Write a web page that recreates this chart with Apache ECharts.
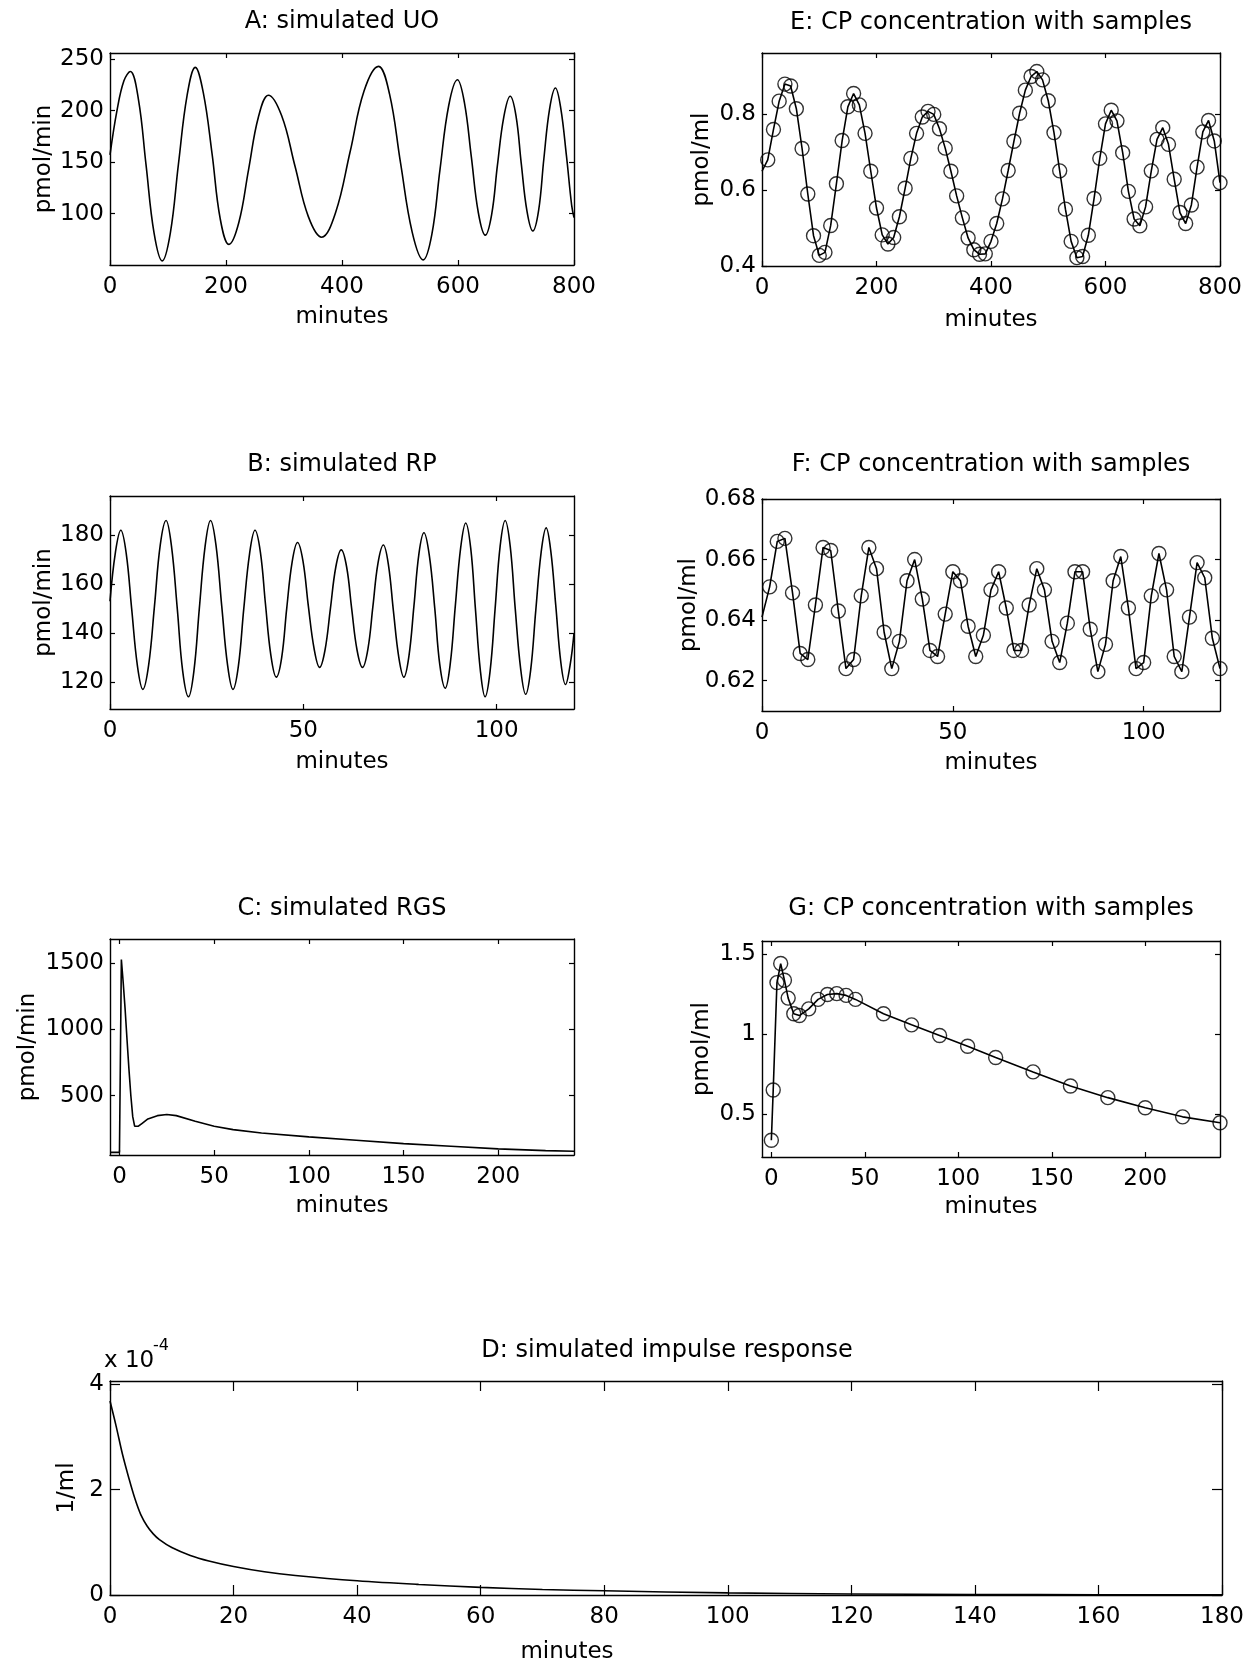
<!DOCTYPE html>
<html><head><meta charset="utf-8">
<script src="https://cdn.jsdelivr.net/npm/echarts@6/dist/echarts.min.js"></script>
<style>html,body{margin:0;padding:0;background:#fff}#c{width:1256px;height:1666px}</style>
</head><body><div id="c"></div>
<script>
// ---------- DATA ----------
// A: simulated UO (pmol/min vs minutes)
const A_t = [0, 12, 24, 35, 49, 62, 76, 90, 104, 118, 133, 147, 161, 176, 190, 205, 222, 239, 256, 273, 296, 319, 342, 365, 389, 414, 438, 463, 482, 501, 521, 540, 555, 569, 584, 599, 611, 623, 635, 647, 658, 668, 679, 690, 700, 709, 719, 729, 739, 748, 758, 768, 777, 787, 796, 800];
const A_v = [157, 200, 229, 238, 211, 148, 81, 54, 81, 148, 215, 242, 217, 158, 95, 70, 91, 143, 194, 215, 195, 146, 97, 77, 101, 160, 219, 243, 216, 149, 82, 55, 80, 143, 205, 230, 208, 155, 101, 79, 99, 147, 194, 214, 195, 149, 102, 83, 103, 153, 202, 222, 203, 156, 108, 96];
const A_xTicks = [0, 200, 400, 600, 800];
const A_yTicks = [100, 150, 200, 250];

// B: simulated RP
const B_t = [0, 1.4, 2.8,
  4.2, 5.6, 7.1, 8.5,   10, 11.5, 13, 14.5,   15.9, 17.4, 18.8, 20.3,   21.7, 23.1, 24.6, 26,
  27.4, 28.9, 30.4, 31.8,   33.2, 34.6, 36.1, 37.5,   38.9, 40.2, 41.6, 43,   44.4, 45.7, 47.1, 48.5,
  49.9, 51.3, 52.8, 54.2,   55.6, 57, 58.4, 59.8,   61.2, 62.5, 63.9, 65.3,   66.7, 68, 69.3, 70.7,
  72, 73.3, 74.7, 76,   77.3, 78.6, 79.9, 81.2,   82.6, 84, 85.3, 86.7,   88, 89.3, 90.7, 92,
  93.3, 94.5, 95.8, 97,   98.3, 99.6, 100.9, 102.2,   103.5, 104.8, 106.2, 107.5,   108.8, 110.1, 111.5, 112.8,
  114, 115.3, 116.6, 117.8,   119, 120];
const B_v = [153, 173, 182,
  172.5, 150, 126.5, 117,   127, 151, 176, 186,   175.5, 150, 124.5, 114,   124.5, 150, 175.5, 186,
  176, 151, 127, 117,   126.5, 150, 172.5, 182,   173, 152, 131, 122,   130, 150, 169, 177,
  169.5, 151, 133.5, 126,   133, 150, 167, 174,   167, 150, 133, 126,   133.5, 151, 168.5, 176,
  168, 149, 130, 122,   130.5, 151, 172.5, 181,   171.5, 150, 127, 117.5,   127.5, 151, 175, 185,
  174.5, 150, 124.5, 114,   124.5, 150, 175.5, 186,   175.5, 150, 125.5, 115,   125, 149, 173, 183,
  173.5, 151, 128, 119,   127, 140];
const B_xTicks = [0, 50, 100];
const B_yTicks = [120, 140, 160, 180];

// C: simulated RGS
const C_t = [-5, 0, 1, 2, 3, 4, 5, 6, 7, 8, 9, 10, 12, 15, 20, 25, 30, 40, 50, 60, 75, 100, 125, 150, 175, 200, 225, 240];
const C_v = [70, 70, 1530, 1350, 1150, 920, 700, 500, 340, 268, 262, 268, 290, 323, 348, 356, 348, 305, 268, 242, 217, 187, 162, 136, 116, 96, 83, 78];
const C_xTicks = [0, 50, 100, 150, 200];
const C_yTicks = [500, 1000, 1500];

// D: simulated impulse response (values in units of 1e-4 1/ml)
const D_t = [0, 1, 2, 3, 4, 5, 6, 7, 8, 10, 13, 16, 20, 25, 30, 40, 50, 60, 70, 80, 100, 120, 140, 160, 180];
const D_v = [3.68, 3.2, 2.68, 2.24, 1.84, 1.52, 1.31, 1.16, 1.05, 0.9, 0.75, 0.645, 0.54, 0.44, 0.37, 0.27, 0.20, 0.145, 0.105, 0.08, 0.04, 0.02, 0.01, 0.005, 0.002];
const D_xTicks = [0, 20, 40, 60, 80, 100, 120, 140, 160, 180];
const D_yTicks = [0, 2, 4];

// E: CP concentration with samples (10-min samples)
const E_line0 = [0, 0.65];
const E_t = [10,20,30,40,50,60,70,80,90,100,110,120,130,140,150,160,170,180,190,200,210,220,230,240,250,260,270,280,290,300,310,320,330,340,350,360,370,380,390,400,410,420,430,440,450,460,470,480,490,500,510,520,530,540,550,560,570,580,590,600,610,620,630,640,650,660,670,680,690,700,710,720,730,740,750,760,770,780,790,800];
const E_v = [0.68,0.76,0.835,0.88,0.875,0.815,0.71,0.59,0.48,0.428,0.436,0.507,0.617,0.731,0.82,0.855,0.825,0.75,0.65,0.553,0.482,0.458,0.475,0.53,0.605,0.684,0.75,0.793,0.808,0.8,0.762,0.711,0.65,0.585,0.527,0.474,0.443,0.431,0.432,0.465,0.512,0.577,0.652,0.729,0.803,0.864,0.9,0.913,0.891,0.836,0.752,0.651,0.55,0.465,0.422,0.425,0.481,0.578,0.684,0.775,0.811,0.783,0.699,0.597,0.524,0.506,0.556,0.651,0.734,0.765,0.721,0.629,0.541,0.512,0.561,0.661,0.754,0.784,0.73,0.62];
const E_xTicks = [0, 200, 400, 600, 800];
const E_yTicks = [0.4, 0.6, 0.8];

// F: CP concentration with samples (2-min samples)
const F_line0 = [0, 0.641];
const F_t = [2,4,6,8,10,12,14,16,18,20,22,24,26,28,30,32,34,36,38,40,42,44,46,48,50,52,54,56,58,60,62,64,66,68,70,72,74,76,78,80,82,84,86,88,90,92,94,96,98,100,102,104,106,108,110,112,114,116,118,120];
const F_v = [0.651,0.666,0.667,0.649,0.629,0.627,0.645,0.664,0.663,0.643,0.624,0.627,0.648,0.664,0.657,0.636,0.624,0.633,0.653,0.660,0.647,0.630,0.628,0.642,0.656,0.653,0.638,0.628,0.635,0.650,0.656,0.644,0.630,0.630,0.645,0.657,0.650,0.633,0.626,0.639,0.656,0.656,0.637,0.623,0.632,0.653,0.661,0.644,0.624,0.626,0.648,0.662,0.650,0.628,0.623,0.641,0.659,0.654,0.634,0.624];
const F_xTicks = [0, 50, 100];
const F_yTicks = [0.62, 0.64, 0.66, 0.68];

// G: CP concentration with samples
const G_t = [0, 1, 3, 5, 7, 9, 12, 15, 20, 25, 30, 35, 40, 45, 60, 75, 90, 105, 120, 140, 160, 180, 200, 220, 240];
const G_v = [0.339, 0.653, 1.324, 1.443, 1.339, 1.227, 1.129, 1.118, 1.160, 1.219, 1.250, 1.255, 1.244, 1.219, 1.129, 1.060, 0.993, 0.926, 0.856, 0.766, 0.678, 0.605, 0.542, 0.485, 0.448];
const G_xTicks = [0, 50, 100, 150, 200];
const G_yTicks = [0.5, 1, 1.5];

// ---------- BUILD ----------
const FONT = 'DejaVu Sans';
const FS = 23;
const LW = 1.6;
const zip = (t, v) => t.map((x, i) => [x, v[i]]);
const grids = [], xAxes = [], yAxes = [], series = [];

function panel(p) {
  const gi = grids.length;
  grids.push({left: p.left, top: p.top, width: p.width, height: p.height, containLabel: false});
  const line = {show: true, onZero: false, lineStyle: {color: '#000', width: 1.4}};
  const tl = p.tick || 5;
  const txt = {color: '#000', fontFamily: FONT, fontSize: FS};
  const xi = xAxes.length, yi = yAxes.length;
  const tick = vals => ({show: true, inside: true, length: tl, lineStyle: {color: '#000', width: 1.2}, customValues: vals});
  xAxes.push({type: 'value', gridIndex: gi, position: 'bottom', min: p.xMin, max: p.xMax,
    axisLine: line, splitLine: {show: false}, axisTick: tick(p.xTicks),
    axisLabel: Object.assign({show: true, margin: 11, customValues: p.xTicks, formatter: v => String(v)}, txt),
    name: p.xName || '', nameLocation: 'middle', nameGap: p.xGap || 40, nameTextStyle: txt});
  xAxes.push({type: 'value', gridIndex: gi, position: 'top', min: p.xMin, max: p.xMax,
    axisLine: line, splitLine: {show: false}, axisTick: tick(p.xTicks), axisLabel: {show: false}});
  yAxes.push({type: 'value', gridIndex: gi, position: 'left', min: p.yMin, max: p.yMax,
    axisLine: line, splitLine: {show: false}, axisTick: tick(p.yTicks),
    axisLabel: Object.assign({show: true, margin: 6, customValues: p.yTicks, formatter: v => String(v)}, txt),
    name: p.yName, nameLocation: 'middle', nameGap: p.yGap, nameTextStyle: txt});
  yAxes.push({type: 'value', gridIndex: gi, position: 'right', min: p.yMin, max: p.yMax,
    axisLine: line, splitLine: {show: false}, axisTick: tick(p.yTicks), axisLabel: {show: false}});
  return {xi, yi};
}

function addLine(ax, data, smooth) {
  series.push({type: 'line', xAxisIndex: ax.xi, yAxisIndex: ax.yi, data, smooth: smooth || false,
    showSymbol: false, symbol: 'none', lineStyle: {color: '#000', width: LW}, z: 3});
}
function addCircles(ax, data) {
  series.push({type: 'scatter', xAxisIndex: ax.xi, yAxisIndex: ax.yi, data, symbol: 'circle', symbolSize: 14,
    itemStyle: {color: 'rgba(0,0,0,0)', borderColor: '#000', borderWidth: 1.4}, z: 4});
}

const axA = panel({left: 110, top: 53, width: 464, height: 212, xMin: 0, xMax: 800, xTicks: A_xTicks,
  yMin: 50, yMax: 256, yTicks: A_yTicks, yName: 'pmol/min', yGap: 54, xName: 'minutes', xGap: 41});
addLine(axA, zip(A_t, A_v), 0.4);

const axE = panel({left: 762, top: 53, width: 458, height: 213, xMin: 0, xMax: 800, xTicks: E_xTicks,
  yMin: 0.4, yMax: 0.962, yTicks: E_yTicks, yName: 'pmol/ml', yGap: 48, xName: 'minutes', xGap: 43});
addLine(axE, [E_line0].concat(zip(E_t, E_v)));
addCircles(axE, zip(E_t, E_v));

const axB = panel({left: 110, top: 496, width: 464, height: 213, xMin: 0, xMax: 120, xTicks: B_xTicks,
  yMin: 109, yMax: 196, yTicks: B_yTicks, yName: 'pmol/min', yGap: 54, xName: 'minutes', xGap: 42});
addLine(axB, zip(B_t, B_v), 0.4);

const axF = panel({left: 762, top: 499, width: 458, height: 212, xMin: 0, xMax: 120, xTicks: F_xTicks,
  yMin: 0.61, yMax: 0.68, yTicks: F_yTicks, yName: 'pmol/ml', yGap: 48, xName: 'minutes', xGap: 41});
addLine(axF, [F_line0].concat(zip(F_t, F_v)));
addCircles(axF, zip(F_t, F_v));

const axC = panel({left: 110, top: 939, width: 464, height: 216, xMin: -5, xMax: 240, xTicks: C_xTicks,
  yMin: 50, yMax: 1685, yTicks: C_yTicks, yName: 'pmol/min', yGap: 70, xName: 'minutes', xGap: 40});
addLine(axC, zip(C_t, C_v));

const axG = panel({left: 762, top: 941, width: 458, height: 216, xMin: -5, xMax: 240, xTicks: G_xTicks,
  yMin: 0.234, yMax: 1.584, yTicks: G_yTicks, yName: 'pmol/ml', yGap: 48, xName: 'minutes', xGap: 39});
addLine(axG, zip(G_t, G_v));
addCircles(axG, zip(G_t, G_v));

const axD = panel({left: 110, top: 1381, width: 1112, height: 214, xMin: 0, xMax: 180, xTicks: D_xTicks,
  yMin: 0, yMax: 4.06, yTicks: D_yTicks, yName: '1/ml', yGap: 28, tick: 10});
addLine(axD, zip(D_t, D_v), 0.35);

function label(text, x, y, size, align) {
  return {type: 'text', x, y, z: 10, style: {text, fill: '#000', font: size + 'px "' + FONT + '"',
    align: align || 'center', verticalAlign: 'middle'}};
}
const graphic = [
  label('A: simulated UO', 342, 22, 24),
  label('E: CP concentration with samples', 991, 23, 24),
  label('B: simulated RP', 342, 465, 24),
  label('F: CP concentration with samples', 991, 465, 24),
  label('C: simulated RGS', 342, 909, 24),
  label('G: CP concentration with samples', 991, 909, 24),
  label('D: simulated impulse response', 667, 1351, 24),
  label('minutes', 567, 1652, FS),
  label('x 10', 104, 1361, FS, 'left'),
  label('-4', 153, 1346, 16, 'left')
];

const chart = echarts.init(document.getElementById('c'), null, {renderer: 'canvas'});
chart.setOption({animation: false, backgroundColor: '#fff', grid: grids, xAxis: xAxes, yAxis: yAxes, series, graphic});
</script></body></html>
